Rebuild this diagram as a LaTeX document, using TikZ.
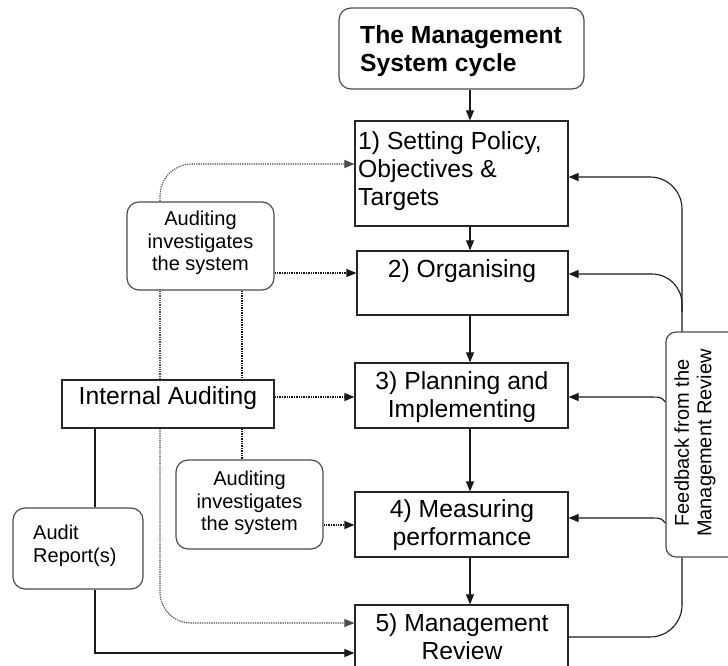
\documentclass[tikz,border=0pt]{standalone}
\usepackage{fontspec}
\setmainfont{Liberation Sans}
\usetikzlibrary{arrows.meta}
\begin{document}
\begin{tikzpicture}[x=1pt,y=-1pt,
  sqbox/.style={draw=black!85,line width=1.2pt,fill=white,rectangle,inner sep=0pt},
  rbox/.style={sqbox,draw=black!70,rounded corners=12pt},
  bigtxt/.style={font=\fontsize{24.7}{28}\selectfont,inner sep=0pt},
  smalltxt/.style={font=\fontsize{20}{22.5}\selectfont,inner sep=0pt},
  tipA/.style={-{Triangle[length=10pt,width=8pt]}},
  conn/.style={line width=1.1pt,draw=black!90,tipA},
  plain/.style={line width=1.1pt,draw=black!90},
  dotln/.style={line width=1.2pt,dash pattern=on 1.4pt off 1pt,draw=black!90},
  dconn/.style={dotln,tipA},
  ltdot/.style={line width=1.1pt,dash pattern=on 1.3pt off 1pt,draw=black!70}
]
\useasboundingbox (0,0) rectangle (728,666);
\clip (0,0) rectangle (728,666);

% helper coordinates
\coordinate (x95) at (95,0);
\coordinate (x160) at (160,0);
\coordinate (x242) at (242,0);
\coordinate (x470) at (470,0);
\coordinate (x682) at (682,0);
\coordinate (y164) at (0,164);
\coordinate (y177) at (0,177);
\coordinate (y273) at (0,273);
\coordinate (y274) at (0,274);
\coordinate (y312) at (0,312);
\coordinate (y397) at (0,397);
\coordinate (y402) at (0,402);
\coordinate (y518) at (0,518);
\coordinate (y523) at (0,523);
\coordinate (y525) at (0,525);
\coordinate (y623) at (0,623);
\coordinate (y637) at (0,637);
\coordinate (y653) at (0,653);

% main cycle boxes
\node[rbox,minimum width=245pt,minimum height=81pt] (top) at (461.5,48.5) {};
\node[bigtxt,anchor=north west,align=left,font=\fontsize{24.7}{28}\selectfont\bfseries] (ttop) at (360,25) {The Management\\System cycle};

\node[sqbox,minimum width=213pt,minimum height=105pt] (b1) at (461.5,173.5) {};
\node[bigtxt,anchor=north west,align=left] (t1) at (358,131) {1) Setting Policy,\\Objectives \&\\Targets};

\node[sqbox,minimum width=211pt,minimum height=64pt] (b2) at (462.5,283) {};
\node[bigtxt,anchor=north] (t2) at (462,259) {2) Organising};

\node[sqbox,minimum width=213pt,minimum height=65pt] (b3) at (461.5,395.5) {};
\node[bigtxt,anchor=north,align=center] (t3) at (462,371) {3) Planning and\\Implementing};

\node[sqbox,minimum width=213pt,minimum height=65pt] (b4) at (461.5,524.5) {};
\node[bigtxt,anchor=north,align=center] (t4) at (462,499) {4) Measuring\\performance};

\node[sqbox,minimum width=213pt,minimum height=67pt] (b5) at (461.5,638.5) {};
\node[bigtxt,anchor=north,align=center] (t5) at (462,613) {5) Management\\Review};

% vertical flow arrows
\draw[conn] (top.south -| x470) -- (b1.north -| x470);
\draw[conn] (b1.south -| x470) -- (b2.north -| x470);
\draw[conn] (b2.south -| x470) -- (b3.north -| x470);
\draw[conn] (b3.south -| x470) -- (b4.north -| x470);
\draw[conn] (b4.south -| x470) -- (b5.north -| x470);

% feedback loop
\draw[conn,rounded corners=32pt] (b5.east |- y637) -- (x682 |- y637) -- (x682 |- y177) -- (b1.east |- y177);
\draw[conn,rounded corners=30pt] (x682 |- y312) -- (x682 |- y274) -- (b2.east |- y274);

\node[rbox,rounded corners=10pt,minimum width=79pt,minimum height=225pt] (fb) at (705.5,444.5) {};
\node[smalltxt,rotate=90,align=center] (tfb) at (695,443) {Feedback from the\\Management Review};

\draw[conn] (fb.west |- y402) .. controls (661,397) .. (648,397) -- (b3.east |- y397);
\draw[conn] (fb.west |- y523) .. controls (661,518) .. (648,518) -- (b4.east |- y518);

% left side boxes
\node[rbox,minimum width=147pt,minimum height=88pt] (a1) at (200.5,246) {};
\node[smalltxt,anchor=north,align=center] (ta1) at (200.5,211) {Auditing\\investigates\\the system};

\node[sqbox,minimum width=212pt,minimum height=48pt] (ia) at (168,404) {};
\node[bigtxt,anchor=north] (tia) at (168,386) {Internal Auditing};

\node[rbox,minimum width=147pt,minimum height=89pt] (a2) at (249.5,504.5) {};
\node[smalltxt,anchor=north,align=center] (ta2) at (249.5,471) {Auditing\\investigates\\the system};

\node[rbox,minimum width=130pt,minimum height=81pt] (ar) at (78,548.5) {};
\node[smalltxt,anchor=north west,align=left] (tar) at (33,525) {Audit\\Report(s)};

% dotted audit links
\draw[dconn] (a1.east |- y273) -- (b2.west |- y273);
\draw[dconn] (ia.east |- y397) -- (b3.west |- y397);
\draw[dconn] (a2.east |- y525) -- (b4.west |- y525);

\draw[ltdot,tipA,rounded corners=32pt] (a1.north -| x160) -- (x160 |- y164) -- (b1.west |- y164);
\draw[ltdot] (a1.south -| x160) -- (ia.north -| x160);
\draw[ltdot,tipA,rounded corners=31pt] (ia.south -| x160) -- (x160 |- y623) -- (b5.west |- y623);

\draw[dotln] (a1.south -| x242) -- (ia.north -| x242);
\draw[dotln] (ia.south -| x242) -- (a2.north -| x242);

% audit report path
\draw[plain] (ia.south -| x95) -- (ar.north -| x95);
\draw[conn] (ar.south -| x95) -- (x95 |- y653) -- (b5.west |- y653);
\end{tikzpicture}
\end{document}
